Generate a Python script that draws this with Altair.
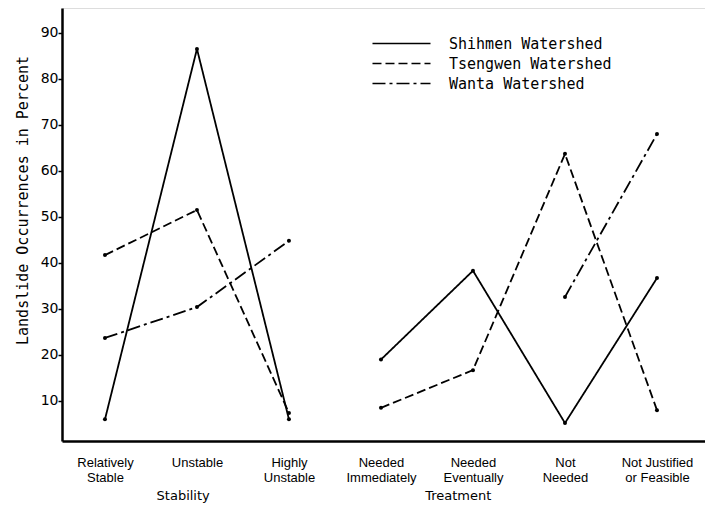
import altair as alt
import pandas as pd

# ---- data ----
categories = ["Relatively Stable", "Unstable", "Highly Unstable",
              "Needed Immediately", "Needed Eventually", "Not Needed",
              "Not Justified or Feasible"]
category_lines = [["Relatively", "Stable"], ["Unstable"], ["Highly", "Unstable"],
                  ["Needed", "Immediately"], ["Needed", "Eventually"],
                  ["Not", "Needed"], ["Not Justified", "or Feasible"]]
category_group = ["Stability", "Stability", "Stability",
                  "Treatment", "Treatment", "Treatment", "Treatment"]

series_names = ["Shihmen Watershed", "Tsengwen Watershed", "Wanta Watershed"]
shihmen = [6.0, 86.5, 6.0, 19.0, 38.3, 5.2, 36.7]
tsengwen = [41.7, 51.5, 7.4, 8.5, 16.7, 63.7, 8.0]
wanta = [23.7, 30.4, 44.8, None, None, 32.6, 68.0]

group_titles = ["Stability", "Treatment"]
group_title_at = [0.85, 3.84]   # position along the category axis

y_ticks = [10, 20, 30, 40, 50, 60, 70, 80, 90]

# ---- tables ----
rows = []
for name, vals in zip(series_names, [shihmen, tsengwen, wanta]):
    for i, v in enumerate(vals):
        if v is None:
            continue
        rows.append({"series": name, "idx": i, "value": v,
                     "seg": name + "|" + category_group[i]})
df = pd.DataFrame(rows)
titles_df = pd.DataFrame({"title": group_titles, "idx": group_title_at})

label_array = "[" + ",".join(
    "[" + ",".join("'" + s + "'" for s in lines) + "]" for lines in category_lines
) + "]"
label_expr = label_array + "[datum.value]"

W, H = 643, 433

x_enc = alt.X("idx:Q",
              scale=alt.Scale(domain=[-0.467, 6.522], nice=False, zero=False),
              axis=alt.Axis(values=list(range(len(categories))), labelExpr=label_expr,
                            ticks=False, tickSize=0, grid=False, title=None,
                            domainColor="black", domainWidth=2.5,
                            labelFont="Liberation Sans", labelFontSize=13,
                            labelColor="black", labelPadding=15, labelLineHeight=15,
                            labelOverlap=False, labelFlush=False))
y_enc = alt.Y("value:Q",
              scale=alt.Scale(domain=[1.3, 95.4], nice=False, zero=False),
              axis=alt.Axis(values=y_ticks, grid=False, tickSize=4, tickColor="black",
                            tickWidth=1.5, labelPadding=0,
                            labelFont="DejaVu Sans", labelFontSize=14, labelColor="black",
                            domainColor="black", domainWidth=2.5,
                            title="Landslide Occurrences in Percent",
                            titleFont="DejaVu Sans Mono", titleFontSize=15,
                            titleFontWeight="normal", titleColor="black",
                            titleAngle=-90, titleX=-40, titleY=192,
                            titleAlign="center", titleBaseline="middle"))

lines = alt.Chart(df).mark_line(color="black", strokeWidth=1.8).encode(
    x=x_enc, y=y_enc,
    strokeDash=alt.StrokeDash(
        "series:N",
        scale=alt.Scale(domain=series_names, range=[[1, 0], [9, 4], [13, 4, 3, 4]]),
        legend=alt.Legend(title=None, orient="none", legendX=329, legendY=25,
                          symbolType="M-3,0H3", symbolSize=374,
                          symbolStrokeColor="black", symbolStrokeWidth=1.6,
                          labelFont="DejaVu Sans Mono", labelFontSize=15,
                          labelColor="black", labelOffset=37, labelLimit=400,
                          rowPadding=1, padding=0)),
    detail="seg:N",
)

points = alt.Chart(df).mark_point(filled=True, size=16, color="black", opacity=1).encode(
    x="idx:Q", y="value:Q")

group_text = alt.Chart(titles_df).mark_text(
    font="DejaVu Sans", fontSize=13, color="black", align="center", baseline="middle"
).encode(x="idx:Q", y=alt.value(H + 55), text="title:N")

chart = alt.layer(lines, points, group_text).properties(
    width=W, height=H,
    autosize=alt.AutoSizeParams(type="none"),
    padding={"left": 54, "top": 0, "right": 0, "bottom": 64},
).configure_view(stroke=None).configure(background="white")

chart.save("out.html", embed_options={"renderer": "svg", "actions": False})
